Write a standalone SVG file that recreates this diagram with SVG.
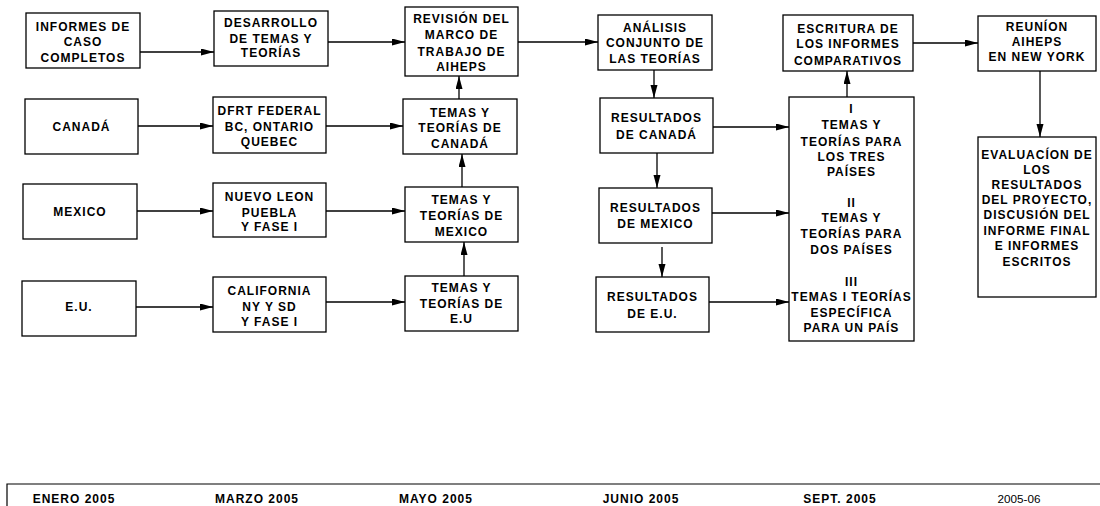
<svg xmlns="http://www.w3.org/2000/svg" width="1100" height="506" viewBox="0 0 1100 506">
<style>
rect{fill:#fff;stroke:#000;stroke-width:1.3}
text{font-family:"Liberation Sans",Arial,sans-serif;font-size:12px;font-weight:bold;text-anchor:middle;letter-spacing:1px;fill:#000}
.c line{stroke:#000;stroke-width:1.3;marker-end:url(#a)}
.t{font-weight:normal;letter-spacing:0;font-size:11.7px}
</style>
<defs><marker id="a" markerUnits="userSpaceOnUse" markerWidth="13" markerHeight="8" refX="13" refY="3.5" orient="auto"><path d="M0,0 L13,3.5 L0,7 z" fill="#000"/></marker></defs>
<g class="c">
<line x1="140" y1="52" x2="214" y2="52"/>
<line x1="328" y1="42" x2="405" y2="42"/>
<line x1="138" y1="126" x2="213" y2="126"/>
<line x1="326" y1="126" x2="403" y2="126"/>
<line x1="137" y1="211" x2="213" y2="211"/>
<line x1="326" y1="211" x2="405" y2="211"/>
<line x1="136" y1="307" x2="213" y2="307"/>
<line x1="326" y1="302" x2="405" y2="302"/>
<line x1="459" y1="99" x2="459" y2="76"/>
<line x1="462" y1="187" x2="462" y2="154"/>
<line x1="464" y1="276" x2="464" y2="242"/>
<line x1="518" y1="42" x2="598" y2="42"/>
<line x1="654" y1="70" x2="654" y2="98"/>
<line x1="657" y1="153" x2="657" y2="188"/>
<line x1="662" y1="247" x2="662" y2="277"/>
<line x1="713" y1="127" x2="789" y2="127"/>
<line x1="712" y1="213" x2="789" y2="213"/>
<line x1="709" y1="302" x2="789" y2="302"/>
<line x1="847" y1="97" x2="847" y2="71"/>
<line x1="913" y1="43" x2="978" y2="43"/>
<line x1="1040" y1="71" x2="1040" y2="137"/>
</g>
<g id="informes"><rect x="26" y="13" width="114" height="55"/><text x="83" y="31">INFORMES DE</text><text x="83" y="46">CASO</text><text x="83" y="62">COMPLETOS</text></g>
<g id="desarrollo"><rect x="214" y="11" width="114" height="55"/><text x="271" y="27">DESARROLLO</text><text x="271" y="43">DE TEMAS Y</text><text x="271" y="57">TEORÍAS</text></g>
<g id="revision"><rect x="405" y="7" width="113" height="69"/><text x="461.5" y="23">REVISIÓN DEL</text><text x="461.5" y="39">MARCO DE</text><text x="461.5" y="56">TRABAJO DE</text><text x="461.5" y="71">AIHEPS</text></g>
<g id="canada"><rect x="25" y="99" width="113" height="55"/><text x="81.5" y="131">CANADÁ</text></g>
<g id="dfrt"><rect x="213" y="97" width="113" height="56"/><text x="269.5" y="115">DFRT FEDERAL</text><text x="269.5" y="131">BC, ONTARIO</text><text x="269.5" y="146">QUEBEC</text></g>
<g id="temas-canada"><rect x="403" y="99" width="114" height="55"/><text x="460" y="117">TEMAS Y</text><text x="460" y="132">TEORÍAS DE</text><text x="460" y="148">CANADÁ</text></g>
<g id="mexico"><rect x="23" y="184" width="114" height="55"/><text x="80" y="216">MEXICO</text></g>
<g id="nuevo-leon"><rect x="213" y="183" width="113" height="54"/><text x="269.5" y="201">NUEVO LEON</text><text x="269.5" y="217">PUEBLA</text><text x="269.5" y="231">Y FASE I</text></g>
<g id="temas-mexico"><rect x="405" y="187" width="113" height="55"/><text x="461.5" y="204">TEMAS Y</text><text x="461.5" y="220">TEORÍAS DE</text><text x="461.5" y="236">MEXICO</text></g>
<g id="eu"><rect x="22" y="281" width="114" height="55"/><text x="79" y="311">E.U.</text></g>
<g id="california"><rect x="213" y="277" width="113" height="55"/><text x="269.5" y="295">CALIFORNIA</text><text x="269.5" y="311">NY Y SD</text><text x="269.5" y="326">Y FASE I</text></g>
<g id="temas-eu"><rect x="405" y="276" width="113" height="55"/><text x="461.5" y="292">TEMAS Y</text><text x="461.5" y="308">TEORÍAS DE</text><text x="461.5" y="323">E.U</text></g>
<g id="analisis"><rect x="598" y="15" width="114" height="55"/><text x="655" y="32">ANÁLISIS</text><text x="655" y="47">CONJUNTO DE</text><text x="655" y="63">LAS TEORÍAS</text></g>
<g id="res-canada"><rect x="600" y="98" width="113" height="55"/><text x="656.5" y="122">RESULTADOS</text><text x="656.5" y="139">DE CANADÁ</text></g>
<g id="res-mexico"><rect x="599" y="188" width="113" height="55"/><text x="655.5" y="212">RESULTADOS</text><text x="655.5" y="228">DE MEXICO</text></g>
<g id="res-eu"><rect x="596" y="277" width="113" height="55"/><text x="652.5" y="301">RESULTADOS</text><text x="652.5" y="318">DE E.U.</text></g>
<g id="temas-paises"><rect x="789" y="97" width="125" height="244"/>
<text x="851.5" y="113">I</text><text x="851.5" y="129">TEMAS Y</text><text x="851.5" y="146">TEORÍAS PARA</text><text x="851.5" y="161">LOS TRES</text><text x="851.5" y="176">PAÍSES</text>
<text x="851.5" y="207">II</text><text x="851.5" y="222">TEMAS Y</text><text x="851.5" y="238">TEORÍAS PARA</text><text x="851.5" y="254">DOS PAÍSES</text>
<text x="851.5" y="286">III</text><text x="851.5" y="301">TEMAS I TEORÍAS</text><text x="851.5" y="317">ESPECÍFICA</text><text x="851.5" y="332">PARA UN PAÍS</text></g>
<g id="escritura"><rect x="783" y="15" width="130" height="56"/><text x="848" y="33">ESCRITURA DE</text><text x="848" y="48">LOS INFORMES</text><text x="848" y="65">COMPARATIVOS</text></g>
<g id="reunion"><rect x="978" y="16" width="118" height="55"/><text x="1037" y="31">REUNÍON</text><text x="1037" y="46">AIHEPS</text><text x="1037" y="61">EN NEW YORK</text></g>
<g id="evaluacion"><rect x="978" y="137" width="118" height="160"/><text x="1037" y="159">EVALUACÍON DE</text><text x="1037" y="174">LOS</text><text x="1037" y="189">RESULTADOS</text><text x="1037" y="204">DEL PROYECTO,</text><text x="1037" y="219">DISCUSIÓN DEL</text><text x="1037" y="235">INFORME FINAL</text><text x="1037" y="250">E INFORMES</text><text x="1037" y="266">ESCRITOS</text></g>
<g id="timeline">
<path d="M7,506 V484 H1100" fill="none" stroke="#000" stroke-width="1.2"/>
<text x="74" y="503">ENERO 2005</text><text x="257" y="503">MARZO 2005</text><text x="436" y="503">MAYO 2005</text><text x="641" y="503">JUNIO 2005</text><text x="840" y="503">SEPT. 2005</text><text class="t" x="1019" y="503">2005-06</text>
</g>
</svg>
